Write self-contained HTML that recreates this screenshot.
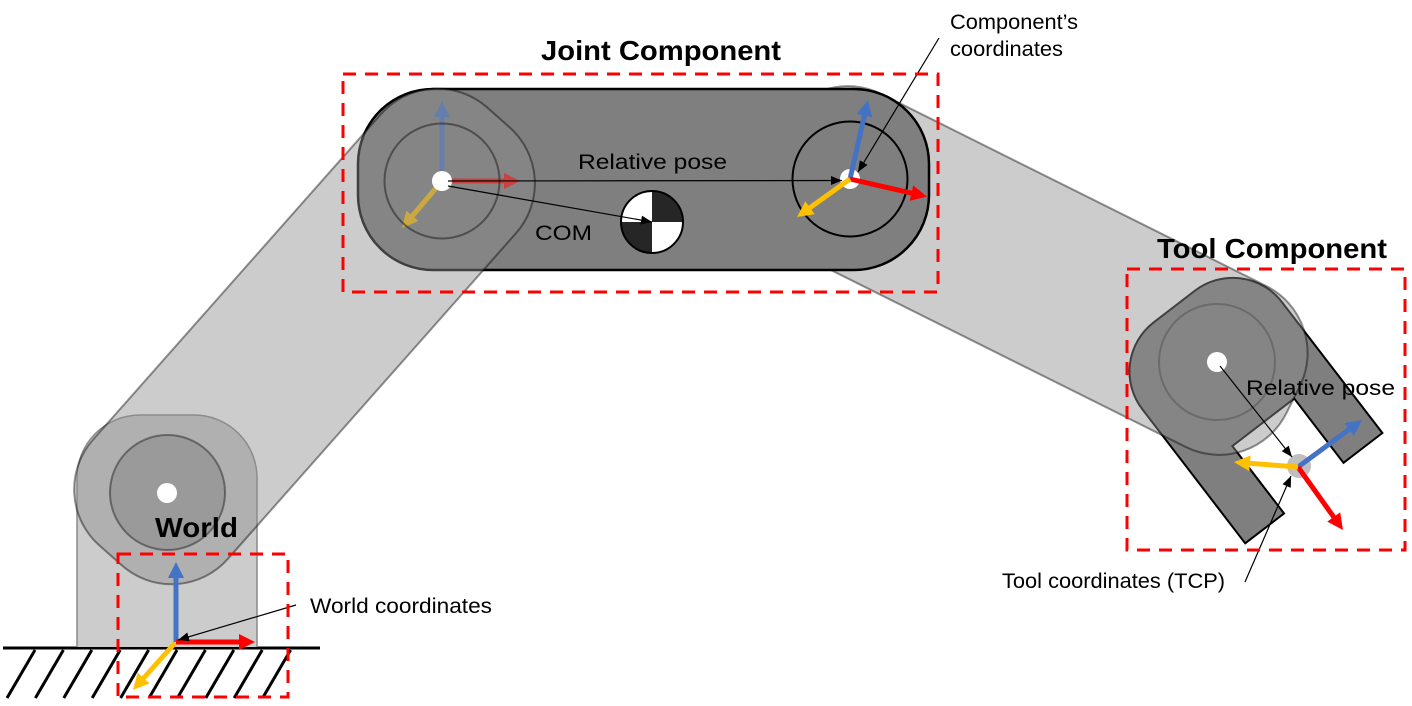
<!DOCTYPE html>
<html>
<head>
<meta charset="utf-8">
<style>
  html,body{margin:0;padding:0;background:#fff;}
  svg{display:block;}
  text{font-family:"Liberation Sans","Noto Sans CJK KR",sans-serif;fill:#000;}
  .b{font-weight:bold;font-size:28px;}
  .n{font-size:21px;}
</style>
</head>
<body>
<svg width="1412" height="706" viewBox="0 0 1412 706" xmlns="http://www.w3.org/2000/svg">
  <defs>
    <marker id="mb" markerUnits="userSpaceOnUse" markerWidth="16" markerHeight="16" viewBox="0 0 16 16" refX="4" refY="8" orient="auto"><path d="M0,0L16,8L0,16z" fill="#4472c4"/></marker>
    <marker id="mr" markerUnits="userSpaceOnUse" markerWidth="16" markerHeight="16" viewBox="0 0 16 16" refX="4" refY="8" orient="auto"><path d="M0,0L16,8L0,16z" fill="#ff0000"/></marker>
    <marker id="my" markerUnits="userSpaceOnUse" markerWidth="16" markerHeight="16" viewBox="0 0 16 16" refX="4" refY="8" orient="auto"><path d="M0,0L16,8L0,16z" fill="#ffc000"/></marker>
    <marker id="mk" markerUnits="userSpaceOnUse" markerWidth="11" markerHeight="9" viewBox="0 0 11 9" refX="11" refY="4.5" orient="auto"><path d="M0,0L11,4.5L0,9z" fill="#000"/></marker>
  </defs>

  <!-- ground -->
  <g stroke="#000" stroke-width="3">
    <line x1="35" y1="650" x2="7" y2="698"/>
    <line x1="63.4" y1="650" x2="35.4" y2="698"/>
    <line x1="91.8" y1="650" x2="63.8" y2="698"/>
    <line x1="120.2" y1="650" x2="92.2" y2="698"/>
    <line x1="148.6" y1="650" x2="120.6" y2="698"/>
    <line x1="177" y1="650" x2="149" y2="698"/>
    <line x1="205.4" y1="650" x2="177.4" y2="698"/>
    <line x1="233.8" y1="650" x2="205.8" y2="698"/>
    <line x1="262.2" y1="650" x2="234.2" y2="698"/>
    <line x1="290.6" y1="650" x2="262.6" y2="698"/>
    <line x1="3" y1="648" x2="320" y2="648"/>
  </g>

  <!-- world base -->
  <path d="M77,647 L77,478 A63,63 0 0 1 140,415 L194,415 A63,63 0 0 1 257,478 L257,647" fill="#cccccc" stroke="#8a8a8a" stroke-width="1.5"/>

  <!-- tool gripper -->
  <g transform="translate(1217,362) rotate(-37.5)">
    <path d="M-88,161 L-88,-8 A62,62 0 0 1 -26,-70 L26,-70 A62,62 0 0 1 88,-8 L88,157 L39,157 L39,76 L-39,76 L-39,161 Z" fill="#7f7f7f" stroke="#000" stroke-width="2"/>
  </g>
  <circle cx="1217" cy="362" r="58" fill="none" stroke="#3a3a3a" stroke-opacity="0.7" stroke-width="2"/>

  <!-- link 2 -->
  <rect x="-85" y="-90" width="580" height="180" rx="75" ry="75" transform="translate(850,179) rotate(26.5)" fill="#8e8e8e" fill-opacity="0.45" stroke="#000" stroke-opacity="0.42" stroke-width="2"/>

  <!-- joint component -->
  <rect x="358" y="89" width="571" height="181" rx="75" ry="75" fill="#7f7f7f" stroke="#000" stroke-width="2.5"/>
  <circle cx="850" cy="179" r="57.5" fill="none" stroke="#000" stroke-width="2"/>

  <!-- left joint axes (faded by link overlay) -->
  <line x1="442" y1="181" x2="442" y2="113" stroke="#4472c4" stroke-width="5" marker-end="url(#mb)"/>
  <line x1="442" y1="181" x2="508" y2="181" stroke="#ff0000" stroke-width="5" marker-end="url(#mr)"/>
  <line x1="442" y1="181" x2="409.8" y2="218.9" stroke="#ffc000" stroke-width="5" marker-end="url(#my)"/>

  <!-- link 1 -->
  <rect x="-85" y="-90" width="585" height="180" rx="75" ry="75" transform="translate(442,181) rotate(131.5)" fill="#8e8e8e" fill-opacity="0.45" stroke="#000" stroke-opacity="0.42" stroke-width="2"/>

  <!-- joint circles -->
  <circle cx="442" cy="181" r="57.5" fill="none" stroke="#2a2a2a" stroke-opacity="0.6" stroke-width="2"/>
  <circle cx="167.5" cy="492.5" r="57.5" fill="#808080" fill-opacity="0.45" stroke="#3a3a3a" stroke-opacity="0.6" stroke-width="2"/>

  <!-- white dots -->
  <circle cx="442" cy="181" r="10" fill="#fff"/>
  <circle cx="167" cy="493" r="10" fill="#fff"/>
  <circle cx="1217" cy="362" r="10" fill="#fff"/>
  <circle cx="850" cy="179" r="10" fill="#fff"/>

  <!-- right joint axes -->
  <line x1="850" y1="179" x2="865.3" y2="111.7" stroke="#4472c4" stroke-width="5" marker-end="url(#mb)"/>
  <line x1="850" y1="179" x2="915.3" y2="194" stroke="#ff0000" stroke-width="5" marker-end="url(#mr)"/>
  <line x1="850" y1="179" x2="806.8" y2="210" stroke="#ffc000" stroke-width="5" marker-end="url(#my)"/>

  <!-- world axes -->
  <line x1="176" y1="642" x2="176" y2="574" stroke="#4472c4" stroke-width="5" marker-end="url(#mb)"/>
  <line x1="176" y1="642" x2="243" y2="642" stroke="#ff0000" stroke-width="5" marker-end="url(#mr)"/>
  <line x1="175" y1="643" x2="141" y2="681" stroke="#ffc000" stroke-width="5" marker-end="url(#my)"/>

  <!-- tool axes -->
  <circle cx="1299" cy="466" r="12" fill="#bfbfbf"/>
  <line x1="1298" y1="467" x2="1352.3" y2="427.1" stroke="#4472c4" stroke-width="5" marker-end="url(#mb)"/>
  <line x1="1298" y1="467" x2="1336" y2="520.2" stroke="#ff0000" stroke-width="5" marker-end="url(#mr)"/>
  <line x1="1298" y1="467" x2="1246" y2="463" stroke="#ffc000" stroke-width="5" marker-end="url(#my)"/>

  <!-- COM symbol -->
  <g>
    <circle cx="652" cy="222" r="31" fill="#fff"/>
    <path d="M652,222 L652,191 A31,31 0 0 1 683,222 Z" fill="#262626"/>
    <path d="M652,222 L652,253 A31,31 0 0 1 621,222 Z" fill="#262626"/>
    <circle cx="652" cy="222" r="31" fill="none" stroke="#000" stroke-width="2"/>
  </g>

  <!-- pointer arrows -->
  <g stroke="#000" stroke-width="1.2" fill="none">
    <line x1="296" y1="605" x2="178" y2="640" marker-end="url(#mk)"/>
    <line x1="448" y1="181" x2="842" y2="180.5" marker-end="url(#mk)"/>
    <line x1="448" y1="186" x2="652" y2="222" marker-end="url(#mk)"/>
    <line x1="939" y1="38" x2="858" y2="172" marker-end="url(#mk)"/>
    <line x1="1220" y1="366" x2="1292" y2="457" marker-end="url(#mk)"/>
    <line x1="1245" y1="582" x2="1291" y2="476" marker-end="url(#mk)"/>
  </g>

  <!-- texts -->
  <text class="b" x="541" y="60" textLength="240" lengthAdjust="spacingAndGlyphs">Joint Component</text>
  <text class="b" x="1157" y="258" textLength="230" lengthAdjust="spacingAndGlyphs">Tool Component</text>
  <text class="b" x="155" y="537" textLength="83" lengthAdjust="spacingAndGlyphs">World</text>
  <text class="n" x="310" y="613" font-size="22" textLength="182" lengthAdjust="spacingAndGlyphs">World coordinates</text>
  <text class="n" x="950" y="29" font-size="20" textLength="128" lengthAdjust="spacingAndGlyphs">Component’s</text>
  <text class="n" x="950" y="56" font-size="20" textLength="113" lengthAdjust="spacingAndGlyphs">coordinates</text>
  <text class="n" x="578" y="169" font-size="22" textLength="149" lengthAdjust="spacingAndGlyphs">Relative pose</text>
  <text class="n" x="535" y="240" font-size="22" textLength="57" lengthAdjust="spacingAndGlyphs">COM</text>
  <text class="n" x="1246" y="395" font-size="22" textLength="149" lengthAdjust="spacingAndGlyphs">Relative pose</text>
  <text class="n" x="1002" y="588" font-size="21" textLength="223" lengthAdjust="spacingAndGlyphs">Tool coordinates (TCP)</text>

  <!-- dashed boxes -->
  <g fill="none" stroke="#ff0000" stroke-width="3" stroke-dasharray="13 9">
    <rect x="118" y="554" width="170" height="143"/>
    <rect x="343" y="74" width="595" height="218"/>
    <rect x="1127" y="269" width="278" height="281"/>
  </g>
</svg>
</body>
</html>
